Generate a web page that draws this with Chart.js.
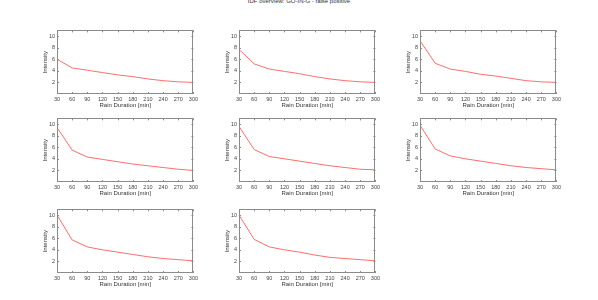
<!DOCTYPE html>
<html>
<head>
<meta charset="utf-8">
<script src="https://cdn.jsdelivr.net/npm/chart.js@4"></script>
<style>
body { margin: 0; background: #fff; width: 598px; height: 300px; position: relative; overflow: hidden; font-family: "Liberation Sans", Arial, sans-serif; }
#title { position: absolute; top: -2px; left: 0; width: 598px; text-align: center; font-size: 6px; color: #333; }
canvas { position: absolute; }
</style>
</head>
<body>
<div id="title">IDF overview: GO-IN-G - false positive</div>
<script>
// rain duration categories, shared by all panels
var durations = [30, 60, 90, 120, 150, 180, 210, 240, 270, 300];
var yTicks = [2, 4, 6, 8, 10];

// one intensity curve per panel
var panel1 = [6.0, 4.5, 4.1, 3.7, 3.3, 3.0, 2.6, 2.3, 2.1, 2.0];
var panel2 = [7.7, 5.2, 4.3, 3.9, 3.5, 3.0, 2.6, 2.3, 2.1, 2.0];
var panel3 = [9.2, 5.3, 4.3, 3.9, 3.4, 3.1, 2.7, 2.3, 2.1, 2.0];
var panel4 = [9.4, 5.5, 4.3, 3.9, 3.5, 3.1, 2.8, 2.5, 2.2, 2.0];
var panel5 = [9.6, 5.6, 4.4, 4.0, 3.6, 3.2, 2.8, 2.5, 2.2, 2.1];
var panel6 = [9.8, 5.7, 4.5, 4.0, 3.6, 3.2, 2.8, 2.5, 2.3, 2.1];
var panel7 = [10.0, 5.7, 4.5, 4.0, 3.6, 3.2, 2.8, 2.5, 2.3, 2.1];
var panel8 = [10.0, 5.8, 4.5, 4.0, 3.6, 3.1, 2.7, 2.5, 2.3, 2.1];

var panels = [panel1, panel2, panel3, panel4, panel5, panel6, panel7, panel8];

var colLeft = [57, 239, 420]; // plot area left edges
var rowTop = [30, 118, 209];  // plot area top edges
var plotW = 137, plotH = 64;
var yw = 15, xh = 15, padTop = 5, padRight = 6;

// box + inward ticks like the original figure
var boxPlugin = {
	id: 'box',
	afterDraw: function(chart) {
		var a = chart.chartArea;
		var ctx = chart.ctx;
		var xs = chart.scales.x, ys = chart.scales.y;
		ctx.save();
		ctx.strokeStyle = '#8a8a8a';
		ctx.lineWidth = 1;
		ctx.strokeRect(Math.round(a.left) + 0.5, Math.round(a.top) + 0.5, Math.round(a.right - a.left) - 1, Math.round(a.bottom - a.top) - 1);
		ctx.beginPath();
		durations.forEach(function(d) {
			var px = Math.round(xs.getPixelForValue(d)) + 0.5;
			ctx.moveTo(px, a.bottom); ctx.lineTo(px, a.bottom - 2);
			ctx.moveTo(px, a.top); ctx.lineTo(px, a.top + 2);
		});
		yTicks.forEach(function(v) {
			var py = Math.round(ys.getPixelForValue(v)) + 0.5;
			ctx.moveTo(a.left, py); ctx.lineTo(a.left + 2, py);
			ctx.moveTo(a.right, py); ctx.lineTo(a.right - 2, py);
		});
		ctx.stroke();
		ctx.restore();
	}
};

var noGrid = { display: false, drawTicks: false, tickLength: 0 };

function makePanel(i) {
	var col = i % 3, row = Math.floor(i / 3);
	var cv = document.createElement('canvas');
	var w = yw + plotW + padRight, h = padTop + plotH + xh;
	cv.style.left = (colLeft[col] - yw) + 'px';
	cv.style.top = (rowTop[row] - padTop) + 'px';
	cv.style.width = w + 'px';
	cv.style.height = h + 'px';
	cv.width = w; cv.height = h;
	document.body.appendChild(cv);

	var points = durations.map(function(d, k) { return {x: d, y: panels[i][k]}; });
	new Chart(cv.getContext('2d'), {
		type: 'line',
		data: {
			datasets: [{
				data: points,
				borderColor: '#ff6e6e',
				borderWidth: 1,
				pointRadius: 0,
				tension: 0
			}]
		},
		options: {
			responsive: false,
			animation: false,
			layout: { padding: { top: padTop, right: padRight, left: 0, bottom: 0 } },
			plugins: { legend: { display: false }, tooltip: { enabled: false } },
			scales: {
				x: {
					type: 'linear',
					min: 30, max: 300,
					afterBuildTicks: function(s) { s.ticks = durations.map(function(v) { return {value: v}; }); },
					afterFit: function(s) { s.height = xh; },
					grid: noGrid,
					border: { display: false },
					ticks: { font: { size: 5.5, family: 'Liberation Sans' }, color: '#444', padding: 2, maxRotation: 0, autoSkip: false },
					title: { display: true, text: 'Rain Duration [min]', font: { size: 6, family: 'Liberation Sans' }, color: '#333', padding: 0 }
				},
				y: {
					min: 0, max: 11,
					afterBuildTicks: function(s) { s.ticks = yTicks.map(function(v) { return {value: v}; }); },
					afterFit: function(s) { s.width = yw; },
					grid: noGrid,
					border: { display: false },
					ticks: { font: { size: 5.5, family: 'Liberation Sans' }, color: '#444', padding: 2, autoSkip: false },
					title: { display: true, text: 'Intensity', font: { size: 6, family: 'Liberation Sans' }, color: '#333', padding: 0 }
				}
			}
		},
		plugins: [boxPlugin]
	});
}

for (var i = 0; i < panels.length; i++) makePanel(i);
</script>
</body>
</html>
